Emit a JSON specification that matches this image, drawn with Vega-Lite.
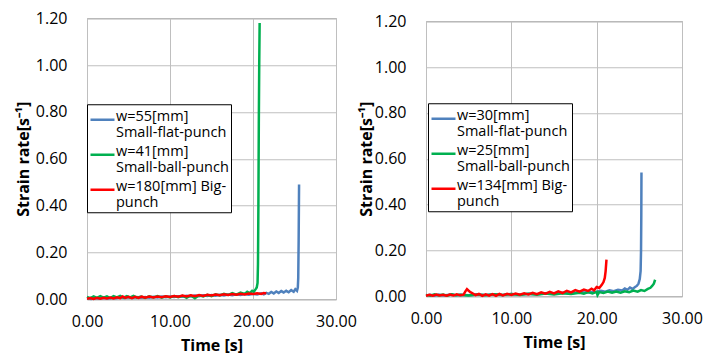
{
  "$schema": "https://vega.github.io/schema/vega-lite/v6.json",
  "padding": {"left": 14, "top": 9, "right": 5, "bottom": 3},
  "background": "white",
  "spacing": 0,
  "center": true,
  "config": {
    "font": "Open Sans",
    "view": {"stroke": "#8C8C8C", "strokeWidth": 1},
    "axis": {
      "labelFontSize": 16, "labelColor": "#000000", "labelFont": "Open Sans", "labelFlush": false,
      "titleFontSize": 16, "titleFontWeight": "bold", "titleColor": "#000000", "titleFont": "Open Sans",
      "ticks": false, "domain": false, "gridColor": "#BFBFBF", "gridWidth": 1
    },
    "axisX": {"labelPadding": 14, "titlePadding": 8},
    "axisY": {"labelPadding": 20, "titlePadding": 4},
    "legend": {
      "orient": "none", "strokeColor": "#000000", "fillColor": "#FFFFFF", "padding": 2,
      "symbolType": "stroke", "symbolSize": 576, "symbolStrokeWidth": 2.5,
      "labelFontSize": 14.5, "labelColor": "#000000", "labelLimit": 300, "labelOffset": 0,
      "rowPadding": 1, "title": null
    }
  },
  "datasets": {
    "left": [
      {"s":"w=55[mm]|Small-flat-punch","t":0,"v":0.004},{"s":"w=55[mm]|Small-flat-punch","t":0.5,"v":0.001},{"s":"w=55[mm]|Small-flat-punch","t":1,"v":0.005},{"s":"w=55[mm]|Small-flat-punch","t":1.5,"v":0.002},{"s":"w=55[mm]|Small-flat-punch","t":2,"v":0.006},{"s":"w=55[mm]|Small-flat-punch","t":2.5,"v":0.003},{"s":"w=55[mm]|Small-flat-punch","t":3,"v":0.006},{"s":"w=55[mm]|Small-flat-punch","t":3.5,"v":0.004},{"s":"w=55[mm]|Small-flat-punch","t":4,"v":0.008},{"s":"w=55[mm]|Small-flat-punch","t":4.5,"v":0.005},{"s":"w=55[mm]|Small-flat-punch","t":5,"v":0.008},{"s":"w=55[mm]|Small-flat-punch","t":5.5,"v":0.005},{"s":"w=55[mm]|Small-flat-punch","t":6,"v":0.009},{"s":"w=55[mm]|Small-flat-punch","t":6.5,"v":0.006},{"s":"w=55[mm]|Small-flat-punch","t":7,"v":0.01},{"s":"w=55[mm]|Small-flat-punch","t":7.5,"v":0.007},{"s":"w=55[mm]|Small-flat-punch","t":8,"v":0.011},{"s":"w=55[mm]|Small-flat-punch","t":8.5,"v":0.008},{"s":"w=55[mm]|Small-flat-punch","t":9,"v":0.012},{"s":"w=55[mm]|Small-flat-punch","t":9.5,"v":0.009},{"s":"w=55[mm]|Small-flat-punch","t":10,"v":0.012},{"s":"w=55[mm]|Small-flat-punch","t":10.5,"v":0.01},{"s":"w=55[mm]|Small-flat-punch","t":11,"v":0.013},{"s":"w=55[mm]|Small-flat-punch","t":11.5,"v":0.011},{"s":"w=55[mm]|Small-flat-punch","t":12,"v":0.015},{"s":"w=55[mm]|Small-flat-punch","t":12.5,"v":0.012},{"s":"w=55[mm]|Small-flat-punch","t":13,"v":0.016},{"s":"w=55[mm]|Small-flat-punch","t":13.5,"v":0.013},{"s":"w=55[mm]|Small-flat-punch","t":14,"v":0.017},{"s":"w=55[mm]|Small-flat-punch","t":14.5,"v":0.014},{"s":"w=55[mm]|Small-flat-punch","t":15,"v":0.018},{"s":"w=55[mm]|Small-flat-punch","t":15.5,"v":0.015},{"s":"w=55[mm]|Small-flat-punch","t":16,"v":0.019},{"s":"w=55[mm]|Small-flat-punch","t":16.5,"v":0.016},{"s":"w=55[mm]|Small-flat-punch","t":17,"v":0.02},{"s":"w=55[mm]|Small-flat-punch","t":17.5,"v":0.017},{"s":"w=55[mm]|Small-flat-punch","t":18,"v":0.021},{"s":"w=55[mm]|Small-flat-punch","t":18.5,"v":0.018},{"s":"w=55[mm]|Small-flat-punch","t":19,"v":0.022},{"s":"w=55[mm]|Small-flat-punch","t":19.5,"v":0.019},{"s":"w=55[mm]|Small-flat-punch","t":20,"v":0.023},{"s":"w=55[mm]|Small-flat-punch","t":20.5,"v":0.02},{"s":"w=55[mm]|Small-flat-punch","t":21,"v":0.025},{"s":"w=55[mm]|Small-flat-punch","t":21.3,"v":0.021},{"s":"w=55[mm]|Small-flat-punch","t":21.6,"v":0.027},{"s":"w=55[mm]|Small-flat-punch","t":21.9,"v":0.023},{"s":"w=55[mm]|Small-flat-punch","t":22.2,"v":0.031},{"s":"w=55[mm]|Small-flat-punch","t":22.5,"v":0.025},{"s":"w=55[mm]|Small-flat-punch","t":22.8,"v":0.033},{"s":"w=55[mm]|Small-flat-punch","t":23.1,"v":0.027},{"s":"w=55[mm]|Small-flat-punch","t":23.4,"v":0.035},{"s":"w=55[mm]|Small-flat-punch","t":23.7,"v":0.029},{"s":"w=55[mm]|Small-flat-punch","t":24,"v":0.036},{"s":"w=55[mm]|Small-flat-punch","t":24.3,"v":0.03},{"s":"w=55[mm]|Small-flat-punch","t":24.6,"v":0.039},{"s":"w=55[mm]|Small-flat-punch","t":24.9,"v":0.032},{"s":"w=55[mm]|Small-flat-punch","t":25.1,"v":0.043},{"s":"w=55[mm]|Small-flat-punch","t":25.3,"v":0.036},{"s":"w=55[mm]|Small-flat-punch","t":25.4,"v":0.05},{"s":"w=55[mm]|Small-flat-punch","t":25.45,"v":0.09},{"s":"w=55[mm]|Small-flat-punch","t":25.5,"v":0.25},{"s":"w=55[mm]|Small-flat-punch","t":25.55,"v":0.49},
      {"s":"w=41[mm]|Small-ball-punch","t":0,"v":0.01},{"s":"w=41[mm]|Small-ball-punch","t":0.4,"v":0.005},{"s":"w=41[mm]|Small-ball-punch","t":0.8,"v":0.012},{"s":"w=41[mm]|Small-ball-punch","t":1.2,"v":0.006},{"s":"w=41[mm]|Small-ball-punch","t":1.6,"v":0.013},{"s":"w=41[mm]|Small-ball-punch","t":2,"v":0.007},{"s":"w=41[mm]|Small-ball-punch","t":2.4,"v":0.012},{"s":"w=41[mm]|Small-ball-punch","t":2.8,"v":0.005},{"s":"w=41[mm]|Small-ball-punch","t":3.2,"v":0.013},{"s":"w=41[mm]|Small-ball-punch","t":3.6,"v":0.008},{"s":"w=41[mm]|Small-ball-punch","t":4,"v":0.014},{"s":"w=41[mm]|Small-ball-punch","t":4.4,"v":0.007},{"s":"w=41[mm]|Small-ball-punch","t":4.8,"v":0.013},{"s":"w=41[mm]|Small-ball-punch","t":5.2,"v":0.008},{"s":"w=41[mm]|Small-ball-punch","t":5.6,"v":0.014},{"s":"w=41[mm]|Small-ball-punch","t":6,"v":0.007},{"s":"w=41[mm]|Small-ball-punch","t":6.5,"v":0.012},{"s":"w=41[mm]|Small-ball-punch","t":7,"v":0.006},{"s":"w=41[mm]|Small-ball-punch","t":7.5,"v":0.013},{"s":"w=41[mm]|Small-ball-punch","t":8,"v":0.008},{"s":"w=41[mm]|Small-ball-punch","t":8.5,"v":0.014},{"s":"w=41[mm]|Small-ball-punch","t":9,"v":0.007},{"s":"w=41[mm]|Small-ball-punch","t":9.5,"v":0.013},{"s":"w=41[mm]|Small-ball-punch","t":10,"v":0.008},{"s":"w=41[mm]|Small-ball-punch","t":10.5,"v":0.014},{"s":"w=41[mm]|Small-ball-punch","t":11,"v":0.009},{"s":"w=41[mm]|Small-ball-punch","t":11.5,"v":0.015},{"s":"w=41[mm]|Small-ball-punch","t":12,"v":0.006},{"s":"w=41[mm]|Small-ball-punch","t":12.5,"v":0.016},{"s":"w=41[mm]|Small-ball-punch","t":13,"v":0.004},{"s":"w=41[mm]|Small-ball-punch","t":13.5,"v":0.017},{"s":"w=41[mm]|Small-ball-punch","t":14,"v":0.012},{"s":"w=41[mm]|Small-ball-punch","t":14.5,"v":0.019},{"s":"w=41[mm]|Small-ball-punch","t":15,"v":0.013},{"s":"w=41[mm]|Small-ball-punch","t":15.5,"v":0.021},{"s":"w=41[mm]|Small-ball-punch","t":16,"v":0.016},{"s":"w=41[mm]|Small-ball-punch","t":16.5,"v":0.023},{"s":"w=41[mm]|Small-ball-punch","t":17,"v":0.018},{"s":"w=41[mm]|Small-ball-punch","t":17.5,"v":0.026},{"s":"w=41[mm]|Small-ball-punch","t":18,"v":0.02},{"s":"w=41[mm]|Small-ball-punch","t":18.5,"v":0.028},{"s":"w=41[mm]|Small-ball-punch","t":19,"v":0.023},{"s":"w=41[mm]|Small-ball-punch","t":19.3,"v":0.032},{"s":"w=41[mm]|Small-ball-punch","t":19.6,"v":0.026},{"s":"w=41[mm]|Small-ball-punch","t":19.9,"v":0.036},{"s":"w=41[mm]|Small-ball-punch","t":20.1,"v":0.032},{"s":"w=41[mm]|Small-ball-punch","t":20.3,"v":0.042},{"s":"w=41[mm]|Small-ball-punch","t":20.45,"v":0.05},{"s":"w=41[mm]|Small-ball-punch","t":20.55,"v":0.07},{"s":"w=41[mm]|Small-ball-punch","t":20.6,"v":0.15},{"s":"w=41[mm]|Small-ball-punch","t":20.65,"v":0.4},{"s":"w=41[mm]|Small-ball-punch","t":20.7,"v":0.75},{"s":"w=41[mm]|Small-ball-punch","t":20.75,"v":1.0},{"s":"w=41[mm]|Small-ball-punch","t":20.8,"v":1.18},
      {"s":"w=180[mm] Big-|punch","t":0,"v":0.002},{"s":"w=180[mm] Big-|punch","t":0.4,"v":0.005},{"s":"w=180[mm] Big-|punch","t":0.8,"v":0.001},{"s":"w=180[mm] Big-|punch","t":1.2,"v":0.006},{"s":"w=180[mm] Big-|punch","t":1.6,"v":0.002},{"s":"w=180[mm] Big-|punch","t":2,"v":0.006},{"s":"w=180[mm] Big-|punch","t":2.4,"v":0.003},{"s":"w=180[mm] Big-|punch","t":2.8,"v":0.007},{"s":"w=180[mm] Big-|punch","t":3.2,"v":0.003},{"s":"w=180[mm] Big-|punch","t":3.6,"v":0.008},{"s":"w=180[mm] Big-|punch","t":4,"v":0.005},{"s":"w=180[mm] Big-|punch","t":4.3,"v":0.012},{"s":"w=180[mm] Big-|punch","t":4.6,"v":0.006},{"s":"w=180[mm] Big-|punch","t":5,"v":0.01},{"s":"w=180[mm] Big-|punch","t":5.4,"v":0.005},{"s":"w=180[mm] Big-|punch","t":5.8,"v":0.01},{"s":"w=180[mm] Big-|punch","t":6.2,"v":0.006},{"s":"w=180[mm] Big-|punch","t":6.6,"v":0.011},{"s":"w=180[mm] Big-|punch","t":7,"v":0.007},{"s":"w=180[mm] Big-|punch","t":7.5,"v":0.012},{"s":"w=180[mm] Big-|punch","t":8,"v":0.008},{"s":"w=180[mm] Big-|punch","t":8.5,"v":0.012},{"s":"w=180[mm] Big-|punch","t":9,"v":0.009},{"s":"w=180[mm] Big-|punch","t":9.5,"v":0.013},{"s":"w=180[mm] Big-|punch","t":10,"v":0.01},{"s":"w=180[mm] Big-|punch","t":10.5,"v":0.014},{"s":"w=180[mm] Big-|punch","t":11,"v":0.011},{"s":"w=180[mm] Big-|punch","t":11.5,"v":0.016},{"s":"w=180[mm] Big-|punch","t":12,"v":0.012},{"s":"w=180[mm] Big-|punch","t":12.5,"v":0.017},{"s":"w=180[mm] Big-|punch","t":13,"v":0.013},{"s":"w=180[mm] Big-|punch","t":13.5,"v":0.018},{"s":"w=180[mm] Big-|punch","t":14,"v":0.014},{"s":"w=180[mm] Big-|punch","t":14.5,"v":0.019},{"s":"w=180[mm] Big-|punch","t":15,"v":0.016},{"s":"w=180[mm] Big-|punch","t":15.5,"v":0.02},{"s":"w=180[mm] Big-|punch","t":16,"v":0.017},{"s":"w=180[mm] Big-|punch","t":16.5,"v":0.021},{"s":"w=180[mm] Big-|punch","t":17,"v":0.018},{"s":"w=180[mm] Big-|punch","t":17.5,"v":0.022},{"s":"w=180[mm] Big-|punch","t":18,"v":0.019},{"s":"w=180[mm] Big-|punch","t":18.5,"v":0.023},{"s":"w=180[mm] Big-|punch","t":19,"v":0.02},{"s":"w=180[mm] Big-|punch","t":19.5,"v":0.024},{"s":"w=180[mm] Big-|punch","t":20,"v":0.022},{"s":"w=180[mm] Big-|punch","t":20.5,"v":0.026},{"s":"w=180[mm] Big-|punch","t":21,"v":0.023},{"s":"w=180[mm] Big-|punch","t":21.3,"v":0.027},{"s":"w=180[mm] Big-|punch","t":21.6,"v":0.025}
    ],
    "right": [
      {"s":"w=30[mm]|Small-flat-punch","t":0,"v":0.003},{"s":"w=30[mm]|Small-flat-punch","t":0.5,"v":0.006},{"s":"w=30[mm]|Small-flat-punch","t":1,"v":0.002},{"s":"w=30[mm]|Small-flat-punch","t":1.5,"v":0.007},{"s":"w=30[mm]|Small-flat-punch","t":2,"v":0.003},{"s":"w=30[mm]|Small-flat-punch","t":2.5,"v":0.006},{"s":"w=30[mm]|Small-flat-punch","t":3,"v":0.009},{"s":"w=30[mm]|Small-flat-punch","t":3.5,"v":0.004},{"s":"w=30[mm]|Small-flat-punch","t":4,"v":0.007},{"s":"w=30[mm]|Small-flat-punch","t":5,"v":0.004},{"s":"w=30[mm]|Small-flat-punch","t":6,"v":0.008},{"s":"w=30[mm]|Small-flat-punch","t":7,"v":0.005},{"s":"w=30[mm]|Small-flat-punch","t":8,"v":0.009},{"s":"w=30[mm]|Small-flat-punch","t":9,"v":0.006},{"s":"w=30[mm]|Small-flat-punch","t":10,"v":0.01},{"s":"w=30[mm]|Small-flat-punch","t":11,"v":0.007},{"s":"w=30[mm]|Small-flat-punch","t":12,"v":0.011},{"s":"w=30[mm]|Small-flat-punch","t":13,"v":0.009},{"s":"w=30[mm]|Small-flat-punch","t":14,"v":0.013},{"s":"w=30[mm]|Small-flat-punch","t":15,"v":0.011},{"s":"w=30[mm]|Small-flat-punch","t":16,"v":0.015},{"s":"w=30[mm]|Small-flat-punch","t":17,"v":0.013},{"s":"w=30[mm]|Small-flat-punch","t":18,"v":0.017},{"s":"w=30[mm]|Small-flat-punch","t":19,"v":0.016},{"s":"w=30[mm]|Small-flat-punch","t":20,"v":0.02},{"s":"w=30[mm]|Small-flat-punch","t":20.5,"v":0.024},{"s":"w=30[mm]|Small-flat-punch","t":21,"v":0.02},{"s":"w=30[mm]|Small-flat-punch","t":21.5,"v":0.026},{"s":"w=30[mm]|Small-flat-punch","t":22,"v":0.022},{"s":"w=30[mm]|Small-flat-punch","t":22.5,"v":0.028},{"s":"w=30[mm]|Small-flat-punch","t":23,"v":0.025},{"s":"w=30[mm]|Small-flat-punch","t":23.3,"v":0.034},{"s":"w=30[mm]|Small-flat-punch","t":23.6,"v":0.028},{"s":"w=30[mm]|Small-flat-punch","t":23.9,"v":0.038},{"s":"w=30[mm]|Small-flat-punch","t":24.2,"v":0.032},{"s":"w=30[mm]|Small-flat-punch","t":24.5,"v":0.04},{"s":"w=30[mm]|Small-flat-punch","t":24.7,"v":0.045},{"s":"w=30[mm]|Small-flat-punch","t":24.9,"v":0.055},{"s":"w=30[mm]|Small-flat-punch","t":25.05,"v":0.075},{"s":"w=30[mm]|Small-flat-punch","t":25.15,"v":0.11},{"s":"w=30[mm]|Small-flat-punch","t":25.2,"v":0.2},{"s":"w=30[mm]|Small-flat-punch","t":25.23,"v":0.35},{"s":"w=30[mm]|Small-flat-punch","t":25.25,"v":0.54},
      {"s":"w=25[mm]|Small-ball-punch","t":0,"v":0.006},{"s":"w=25[mm]|Small-ball-punch","t":0.5,"v":0.002},{"s":"w=25[mm]|Small-ball-punch","t":1,"v":0.008},{"s":"w=25[mm]|Small-ball-punch","t":1.5,"v":0.003},{"s":"w=25[mm]|Small-ball-punch","t":2,"v":0.007},{"s":"w=25[mm]|Small-ball-punch","t":2.5,"v":0.002},{"s":"w=25[mm]|Small-ball-punch","t":3,"v":0.008},{"s":"w=25[mm]|Small-ball-punch","t":3.5,"v":0.004},{"s":"w=25[mm]|Small-ball-punch","t":4,"v":0.007},{"s":"w=25[mm]|Small-ball-punch","t":5,"v":0.003},{"s":"w=25[mm]|Small-ball-punch","t":6,"v":0.008},{"s":"w=25[mm]|Small-ball-punch","t":7,"v":0.004},{"s":"w=25[mm]|Small-ball-punch","t":8,"v":0.009},{"s":"w=25[mm]|Small-ball-punch","t":9,"v":0.005},{"s":"w=25[mm]|Small-ball-punch","t":10,"v":0.01},{"s":"w=25[mm]|Small-ball-punch","t":11,"v":0.006},{"s":"w=25[mm]|Small-ball-punch","t":12,"v":0.011},{"s":"w=25[mm]|Small-ball-punch","t":13,"v":0.007},{"s":"w=25[mm]|Small-ball-punch","t":14,"v":0.012},{"s":"w=25[mm]|Small-ball-punch","t":15,"v":0.008},{"s":"w=25[mm]|Small-ball-punch","t":16,"v":0.013},{"s":"w=25[mm]|Small-ball-punch","t":17,"v":0.01},{"s":"w=25[mm]|Small-ball-punch","t":18,"v":0.015},{"s":"w=25[mm]|Small-ball-punch","t":18.5,"v":0.011},{"s":"w=25[mm]|Small-ball-punch","t":19,"v":0.018},{"s":"w=25[mm]|Small-ball-punch","t":19.5,"v":0.012},{"s":"w=25[mm]|Small-ball-punch","t":20,"v":0.019},{"s":"w=25[mm]|Small-ball-punch","t":20.1,"v":0.005},{"s":"w=25[mm]|Small-ball-punch","t":20.3,"v":0.018},{"s":"w=25[mm]|Small-ball-punch","t":20.8,"v":0.014},{"s":"w=25[mm]|Small-ball-punch","t":21.3,"v":0.02},{"s":"w=25[mm]|Small-ball-punch","t":21.8,"v":0.015},{"s":"w=25[mm]|Small-ball-punch","t":22.3,"v":0.021},{"s":"w=25[mm]|Small-ball-punch","t":22.8,"v":0.016},{"s":"w=25[mm]|Small-ball-punch","t":23.3,"v":0.022},{"s":"w=25[mm]|Small-ball-punch","t":23.8,"v":0.018},{"s":"w=25[mm]|Small-ball-punch","t":24.3,"v":0.025},{"s":"w=25[mm]|Small-ball-punch","t":24.8,"v":0.02},{"s":"w=25[mm]|Small-ball-punch","t":25.2,"v":0.027},{"s":"w=25[mm]|Small-ball-punch","t":25.6,"v":0.023},{"s":"w=25[mm]|Small-ball-punch","t":26,"v":0.032},{"s":"w=25[mm]|Small-ball-punch","t":26.3,"v":0.037},{"s":"w=25[mm]|Small-ball-punch","t":26.5,"v":0.045},{"s":"w=25[mm]|Small-ball-punch","t":26.7,"v":0.055},{"s":"w=25[mm]|Small-ball-punch","t":26.85,"v":0.072},
      {"s":"w=134[mm] Big-|punch","t":0,"v":0.002},{"s":"w=134[mm] Big-|punch","t":0.4,"v":0.006},{"s":"w=134[mm] Big-|punch","t":0.8,"v":0.002},{"s":"w=134[mm] Big-|punch","t":1.2,"v":0.007},{"s":"w=134[mm] Big-|punch","t":1.6,"v":0.003},{"s":"w=134[mm] Big-|punch","t":2,"v":0.006},{"s":"w=134[mm] Big-|punch","t":2.4,"v":0.002},{"s":"w=134[mm] Big-|punch","t":2.8,"v":0.007},{"s":"w=134[mm] Big-|punch","t":3.2,"v":0.003},{"s":"w=134[mm] Big-|punch","t":3.6,"v":0.008},{"s":"w=134[mm] Big-|punch","t":4,"v":0.004},{"s":"w=134[mm] Big-|punch","t":4.4,"v":0.007},{"s":"w=134[mm] Big-|punch","t":4.6,"v":0.02},{"s":"w=134[mm] Big-|punch","t":4.8,"v":0.031},{"s":"w=134[mm] Big-|punch","t":5,"v":0.024},{"s":"w=134[mm] Big-|punch","t":5.2,"v":0.018},{"s":"w=134[mm] Big-|punch","t":5.5,"v":0.012},{"s":"w=134[mm] Big-|punch","t":5.8,"v":0.005},{"s":"w=134[mm] Big-|punch","t":6.2,"v":0.01},{"s":"w=134[mm] Big-|punch","t":6.6,"v":0.002},{"s":"w=134[mm] Big-|punch","t":7,"v":0.008},{"s":"w=134[mm] Big-|punch","t":7.4,"v":0.003},{"s":"w=134[mm] Big-|punch","t":7.8,"v":0.009},{"s":"w=134[mm] Big-|punch","t":8.2,"v":0.002},{"s":"w=134[mm] Big-|punch","t":8.6,"v":0.01},{"s":"w=134[mm] Big-|punch","t":9,"v":0.004},{"s":"w=134[mm] Big-|punch","t":9.5,"v":0.011},{"s":"w=134[mm] Big-|punch","t":10,"v":0.006},{"s":"w=134[mm] Big-|punch","t":10.5,"v":0.012},{"s":"w=134[mm] Big-|punch","t":11,"v":0.007},{"s":"w=134[mm] Big-|punch","t":11.5,"v":0.013},{"s":"w=134[mm] Big-|punch","t":12,"v":0.008},{"s":"w=134[mm] Big-|punch","t":12.5,"v":0.015},{"s":"w=134[mm] Big-|punch","t":13,"v":0.009},{"s":"w=134[mm] Big-|punch","t":13.5,"v":0.017},{"s":"w=134[mm] Big-|punch","t":14,"v":0.011},{"s":"w=134[mm] Big-|punch","t":14.5,"v":0.019},{"s":"w=134[mm] Big-|punch","t":15,"v":0.012},{"s":"w=134[mm] Big-|punch","t":15.5,"v":0.021},{"s":"w=134[mm] Big-|punch","t":16,"v":0.014},{"s":"w=134[mm] Big-|punch","t":16.5,"v":0.024},{"s":"w=134[mm] Big-|punch","t":17,"v":0.017},{"s":"w=134[mm] Big-|punch","t":17.5,"v":0.027},{"s":"w=134[mm] Big-|punch","t":18,"v":0.02},{"s":"w=134[mm] Big-|punch","t":18.5,"v":0.029},{"s":"w=134[mm] Big-|punch","t":19,"v":0.023},{"s":"w=134[mm] Big-|punch","t":19.4,"v":0.033},{"s":"w=134[mm] Big-|punch","t":19.7,"v":0.026},{"s":"w=134[mm] Big-|punch","t":20,"v":0.04},{"s":"w=134[mm] Big-|punch","t":20.3,"v":0.036},{"s":"w=134[mm] Big-|punch","t":20.6,"v":0.05},{"s":"w=134[mm] Big-|punch","t":20.8,"v":0.062},{"s":"w=134[mm] Big-|punch","t":20.95,"v":0.08},{"s":"w=134[mm] Big-|punch","t":21.05,"v":0.11},{"s":"w=134[mm] Big-|punch","t":21.15,"v":0.16}
    ]
  },
  "hconcat": [
    {
      "width": 249, "height": 281,
      "data": {"name": "left"},
      "mark": {"type": "line", "strokeWidth": 2.5},
      "encoding": {
        "x": {"field": "t", "type": "quantitative", "scale": {"domain": [0, 30], "nice": false}, "axis": {"values": [0, 10, 20, 30], "format": ".2f", "title": "Time [s]"}},
        "y": {"field": "v", "type": "quantitative", "scale": {"domain": [0, 1.2], "nice": false}, "axis": {"values": [0, 0.2, 0.4, 0.6, 0.8, 1.0, 1.2], "format": ".2f", "title": "Strain rate[s⁻¹]"}},
        "color": {"field": "s", "type": "nominal",
          "scale": {"domain": ["w=55[mm]|Small-flat-punch", "w=41[mm]|Small-ball-punch", "w=180[mm] Big-|punch"], "range": ["#4F81BD", "#00B050", "#FF0000"]},
          "legend": {"legendX": 0, "legendY": 86, "labelExpr": "split(datum.label, '|')", "labelBaseline": "top",
            "encode": {"labels": {"update": {"lineHeight": {"value": 16.5}, "dy": {"value": -10}}}}}
        }
      }
    },
    {
      "width": 256, "height": 275,
      "data": {"name": "right"},
      "mark": {"type": "line", "strokeWidth": 2.5},
      "encoding": {
        "x": {"field": "t", "type": "quantitative", "scale": {"domain": [0, 30], "nice": false}, "axis": {"values": [0, 10, 20, 30], "format": ".2f", "title": "Time [s]"}},
        "y": {"field": "v", "type": "quantitative", "scale": {"domain": [0, 1.2], "nice": false}, "axis": {"values": [0, 0.2, 0.4, 0.6, 0.8, 1.0, 1.2], "format": ".2f", "title": "Strain rate[s⁻¹]", "titlePadding": 0}},
        "color": {"field": "s", "type": "nominal",
          "scale": {"domain": ["w=30[mm]|Small-flat-punch", "w=25[mm]|Small-ball-punch", "w=134[mm] Big-|punch"], "range": ["#4F81BD", "#00B050", "#FF0000"]},
          "legend": {"legendX": 2, "legendY": 82, "labelExpr": "split(datum.label, '|')", "labelBaseline": "top",
            "encode": {"labels": {"update": {"lineHeight": {"value": 16.5}, "dy": {"value": -10}}}}}
        }
      }
    }
  ],
  "resolve": {"scale": {"color": "independent"}}
}
